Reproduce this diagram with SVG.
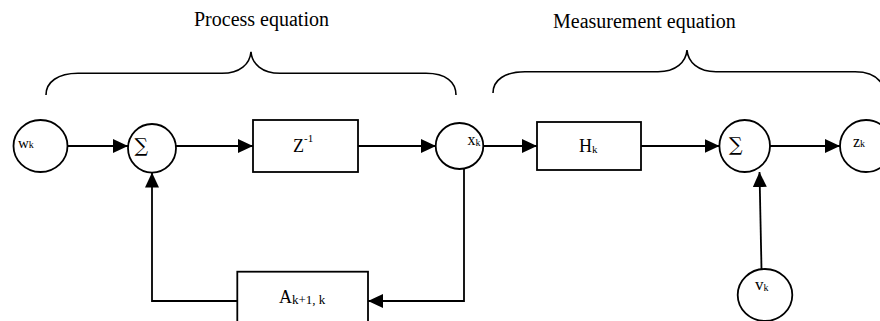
<svg xmlns="http://www.w3.org/2000/svg" width="880" height="321" viewBox="0 0 880 321">
  <style>
    .shape { fill: #fff; stroke: #000; stroke-width: 1.8; }
    .brace { fill: none; stroke: #000; stroke-width: 1.6; }
    .wire { fill: none; stroke: #000; stroke-width: 1.8; }
    text { font-family: "Liberation Serif", "Times New Roman", serif; fill: #000; }
    .title { font-size: 20px; }
    .sum { font-family: "DejaVu Serif", "Liberation Serif", serif; font-size: 19px; }
  </style>
  <defs>
    <marker id="arrow" markerUnits="userSpaceOnUse" markerWidth="16" markerHeight="15" refX="15" refY="7" orient="auto">
      <path d="M0,0 L15,7 L0,14 Z" fill="#000"/>
    </marker>
  </defs>

  <rect width="880" height="321" fill="#fff"/>

  <!-- section titles and braces -->
  <g id="process-label">
    <text class="title" x="194" y="26">Process equation</text>
    <path class="brace" d="M46,95 C46,82 58,73.3 78,73.3 L222,73.3 C240,73.3 250,64 251,51.7 C252,64 262,73.3 280,73.3 L426,73.3 C446,73.3 456,82 456,95"/>
  </g>
  <g id="measurement-label">
    <text class="title" x="553" y="27.5">Measurement equation</text>
    <path class="brace" d="M493,93 C493,80 505,71.7 525,71.7 L658,71.7 C676,71.7 686,62 687,50 C688,62 698,71.7 716,71.7 L855,71.7 C870,71.7 880,78 884,88"/>
  </g>

  <!-- connectors -->
  <g id="connectors">
    <line class="wire" x1="67.5" y1="146" x2="128" y2="146" marker-end="url(#arrow)"/>
    <line class="wire" x1="176" y1="146" x2="253" y2="146" marker-end="url(#arrow)"/>
    <line class="wire" x1="358" y1="146" x2="436" y2="146" marker-end="url(#arrow)"/>
    <line class="wire" x1="483" y1="146" x2="537" y2="146" marker-end="url(#arrow)"/>
    <line class="wire" x1="641" y1="146" x2="719.5" y2="146" marker-end="url(#arrow)"/>
    <line class="wire" x1="770" y1="146" x2="840" y2="146" marker-end="url(#arrow)"/>
    <line class="wire" x1="761.5" y1="269" x2="759.5" y2="172" marker-end="url(#arrow)"/>
    <polyline class="wire" points="464,169 464,301 368,301" marker-end="url(#arrow)"/>
    <polyline class="wire" points="237,301 152,301 152,172.5" marker-end="url(#arrow)"/>
  </g>

  <!-- nodes -->
  <g id="w-k">
    <ellipse class="shape" cx="40.5" cy="146" rx="27" ry="26"/>
    <text x="18" y="148" font-size="15">w<tspan font-size="10">k</tspan></text>
  </g>
  <g id="sum-process">
    <ellipse class="shape" cx="152" cy="148.3" rx="24" ry="24.3"/>
    <text class="sum" x="134.5" y="152">∑</text>
  </g>
  <g id="delay">
    <rect class="shape" x="253" y="120" width="105" height="52"/>
    <text x="293" y="152" font-size="18">Z<tspan font-size="11" dy="-10">-1</tspan></text>
  </g>
  <g id="x-k">
    <ellipse class="shape" cx="459.5" cy="146" rx="23.8" ry="23"/>
    <text x="467.5" y="145" font-size="16">x<tspan font-size="10" dy="1">k</tspan></text>
  </g>
  <g id="h-k">
    <rect class="shape" x="537" y="122" width="104" height="48"/>
    <text x="579" y="152" font-size="18">H<tspan font-size="11" dy="1">k</tspan></text>
  </g>
  <g id="sum-measure">
    <ellipse class="shape" cx="744.7" cy="146" rx="25.3" ry="26"/>
    <text class="sum" x="729" y="151">∑</text>
  </g>
  <g id="z-k">
    <ellipse class="shape" cx="866" cy="146" rx="26" ry="26"/>
    <text x="853" y="146.5" font-size="16">z<tspan font-size="10">k</tspan></text>
  </g>
  <g id="v-k">
    <ellipse class="shape" cx="765" cy="295" rx="27.3" ry="26"/>
    <text x="755" y="290" font-size="17">v<tspan font-size="10" dy="1">k</tspan></text>
  </g>
  <g id="a-k">
    <rect class="shape" x="237.3" y="271.7" width="130.7" height="60"/>
    <text x="279" y="302.5" font-size="18">A<tspan font-size="13" dy="1">k+1, k</tspan></text>
  </g>
</svg>
